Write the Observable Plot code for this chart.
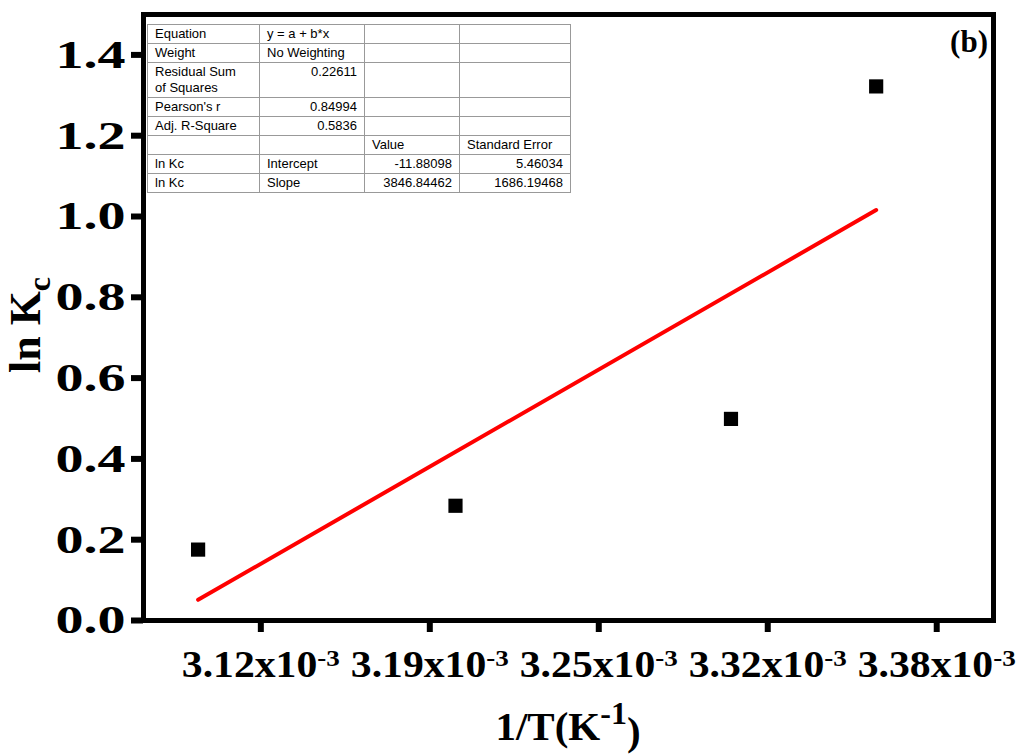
<!DOCTYPE html>
<html><head><meta charset="utf-8">
<script src="https://cdn.jsdelivr.net/npm/d3@7"></script>
<script src="https://cdn.jsdelivr.net/npm/@observablehq/plot@0.6"></script>
<style>
body{margin:0;background:#fff}
#wrap{position:relative;width:1020px;height:756px}
#tbl{position:absolute;left:147px;top:24px;border-collapse:collapse;font-family:"Liberation Sans",Arial,sans-serif;font-size:13px;background:#fff}
#tbl td{border:1px solid #999;padding:1px 7px;line-height:16px;height:16px;vertical-align:top;color:#000}
#tbl{border:1.5px solid #333}
</style></head><body>
<div id="wrap"></div>
<script>
// 1/T in units of 1e-3 K^-1, ln Kc
const invT = [3.1018, 3.197, 3.2989, 3.3526];
const lnKc = [0.1755, 0.284, 0.499, 1.322];
const xTicks = [3.125, 3.1875, 3.25, 3.3125, 3.375];
const xTickLabels = ["3.12", "3.19", "3.25", "3.32", "3.38"];
const yTicks = [0, 0.2, 0.4, 0.6, 0.8, 1.0, 1.2, 1.4];
const intercept = -11.88098, slope = 3846.84462;
const tableRows = [
  ["Equation", "y = a + b*x", "", ""],
  ["Weight", "No Weighting", "", ""],
  ["Residual Sum<br>of Squares", "0.22611", "", ""],
  ["Pearson's r", "0.84994", "", ""],
  ["Adj. R-Square", "0.5836", "", ""],
  ["", "", "Value", "Standard Error"],
  ["ln Kc", "Intercept", "-11.88098", "5.46034"],
  ["ln Kc", "Slope", "3846.84462", "1686.19468"]
];

const pts = invT.map((x, i) => ({x, y: lnKc[i]}));
const xs = [d3.min(invT), d3.max(invT)];
const fit = xs.map(x => ({x, y: intercept + slope * x * 1e-3}));

const chart = Plot.plot({
  width: 1020, height: 756,
  marginLeft: 143, marginRight: 27, marginTop: 14, marginBottom: 136,
  style: {fontFamily: "'Liberation Serif', serif", fontWeight: "bold", fontSize: "32px", color: "#000"},
  x: {domain: [3.0816, 3.396]},
  y: {domain: [0, 1.5], ticks: yTicks},
  marks: [
    Plot.axisX({ticks: xTicks, tickSize: 12, tickPadding: 18, label: null,
      tickFormat: (d, i) => xTickLabels[i]}),
    Plot.axisY({ticks: yTicks, tickSize: 12, tickPadding: 6, label: null,
      tickFormat: d3.format(".1f")}),
    Plot.line(fit, {x: "x", y: "y", stroke: "#f00", strokeWidth: 4}),
    Plot.dot(pts, {x: "x", y: "y", symbol: "square", r: 8, fill: "#000"}),
    Plot.frame({stroke: "#000", strokeWidth: 5})
  ]
});

const svg = d3.select(chart);
svg.selectAll("g[aria-label*='tick'] path, g[aria-label*='tick'] line")
  .attr("stroke-width", 6).style("stroke-width", "6px");
svg.selectAll("g[aria-label='x-axis tick label'] text").each(function() {
  const t = d3.select(this), s = t.text();
  t.style("font-size", "37px").text(s + "x10").attr("textLength", 158).attr("lengthAdjust", "spacingAndGlyphs");
  t.append("tspan").attr("dy", "-0.45em").style("font-size", "24px").text("-3");
});
svg.selectAll("g[aria-label='y-axis tick label'] text").style("font-size", "40px")
  .attr("textLength", 70).attr("lengthAdjust", "spacingAndGlyphs");
svg.append("text").attr("x", 988).attr("y", 52).attr("text-anchor", "end")
  .attr("font-family", "'Liberation Serif', serif").attr("font-weight", "bold").style("font-size", "31px").text("(b)");
const yl = svg.append("text").attr("transform", "translate(40,325) rotate(-90)").attr("text-anchor", "middle")
  .attr("font-family", "'Liberation Serif', serif").attr("font-weight", "bold").style("font-size", "44px");
yl.append("tspan").text("ln K");
yl.append("tspan").attr("dy", "0.3em").style("font-size", "32px").text("c");
const xl = svg.append("text").attr("x", 568).attr("y", 740).attr("text-anchor", "middle")
  .attr("font-family", "'Liberation Serif', serif").attr("font-weight", "bold").style("font-size", "41px");
xl.append("tspan").text("1/T(K");
xl.append("tspan").attr("dy", "-0.5em").style("font-size", "32px").text("-1");
xl.append("tspan").attr("dy", "0.5em").text(")");

const wrap = d3.select("#wrap");
wrap.append(() => chart);
const tb = wrap.append("table").attr("id", "tbl");
const widths = [97, 90, 80, 96];
tableRows.forEach(r => {
  const tr = tb.append("tr");
  r.forEach((c, j) => tr.append("td").style("width", widths[j] + "px")
    .style("text-align", (j === 1 && /^[0-9]/.test(c)) || (j >= 2 && /^[-0-9]/.test(c)) ? "right" : "left")
    .html(c));
});
</script></body></html>
